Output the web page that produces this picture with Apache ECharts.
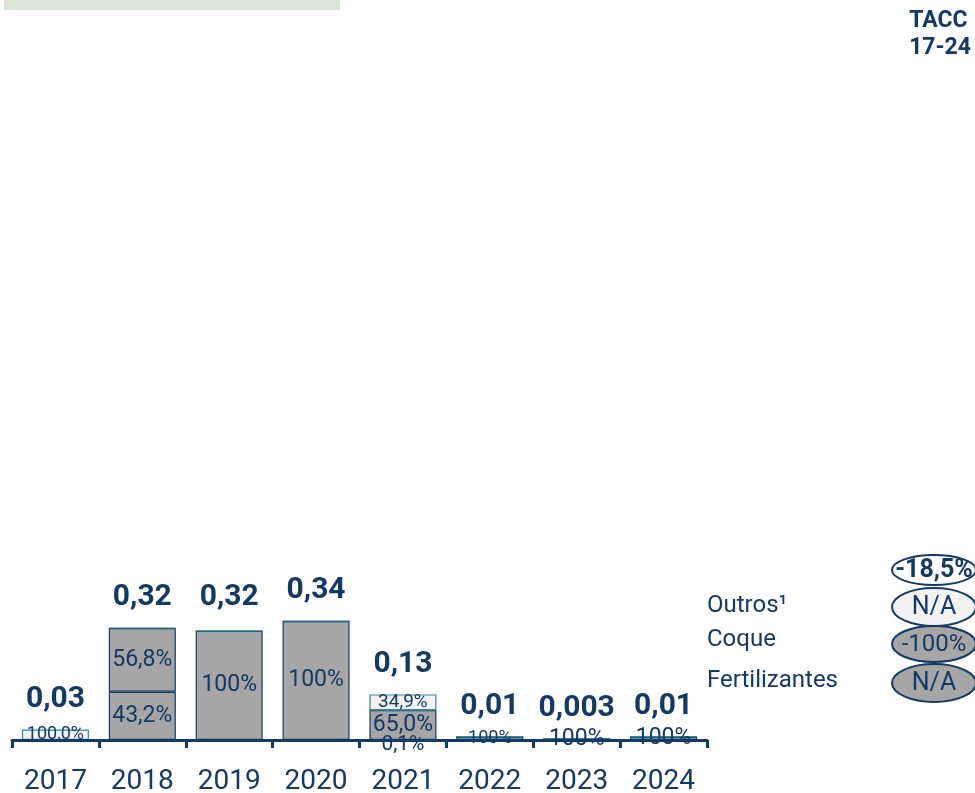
<!DOCTYPE html>
<html>
<head>
<meta charset="utf-8">
<script src="https://cdn.jsdelivr.net/npm/echarts@6/dist/echarts.min.js"></script>
<style>
html,body{margin:0;padding:0;background:#fff;}
#chart{width:975px;height:793px;}
</style>
</head>
<body>
<div id="chart"></div>
<script>
// ---- data ----
const years = ['2017', '2018', '2019', '2020', '2021', '2022', '2023', '2024'];
const fertilizantes = [0, 0.138, 0, 0, 0.0003, 0.01, 0.003, 0.01];
const coque = [0, 0.182, 0.312, 0.34, 0.085, 0, 0, 0];
const outros = [0.03, 0, 0, 0, 0.045, 0, 0, 0];
const fertLabels = ['', '43,2%', '', '', '0,1%', '100%', '100%', '100%'];
const coqueLabels = ['', '56,8%', '100%', '100%', '65,0%', '', '', ''];
const outrosLabels = ['100,0%', '', '', '', '34,9%', '', '', ''];
const totals = [0.03, 0.32, 0.32, 0.34, 0.13, 0.01, 0.003, 0.01];
const totalLabels = ['0,03', '0,32', '0,32', '0,34', '0,13', '0,01', '0,003', '0,01'];
const legendNames = ['Outros\u00B9', 'Coque', 'Fertilizantes'];
const taccTitle = ['TACC', '17-24'];
const taccTotal = '-18,5%';
const taccValues = ['N/A', '-100%', 'N/A'];

// ---- styling ----
const NAVY = '#123a64';
const GREY = '#a6a6a6';
const LIGHT = '#f2f2f2';
const TEAL = '#2f8c9c';
const FONT = "Roboto, 'Liberation Sans', sans-serif";
// label font sizes per category (style only)
const fertLabelSize = [23, 23, 23, 23, 21, 18, 23, 23];
const coqueLabelSize = [23, 23, 23, 23, 23, 23, 23, 23];
const outrosLabelSize = [18, 23, 23, 23, 19, 23, 23, 23];

function segData(values, labels, sizes, name) {
  return values.map((v, i) => {
    const lab = labels[i];
    const item = { value: v };
    item.label = { show: lab !== '', formatter: lab, fontSize: sizes[i] };
    if (name === 'fert' && lab === '0,1%') item.label.offset = [0, 5];
    return item;
  });
}

const barCommon = {
  type: 'bar',
  stack: 'total',
  barWidth: 67,
  label: { show: true, position: 'inside', color: NAVY, fontFamily: FONT },
  emphasis: { disabled: true }
};

const chart = echarts.init(document.getElementById('chart'), null, { renderer: 'canvas' });

const graphics = [
  { type: 'rect', shape: { x: 4, y: 0, width: 336, height: 10 }, style: { fill: '#d8e5d8' } },
  { type: 'text', right: 4, top: 8, style: { text: taccTitle.join('\n'), fill: NAVY, font: "bold 23px " + FONT, lineHeight: 27, align: 'right' } }
];

const legendY = [606, 640, 681];
legendNames.forEach((n, i) => {
  graphics.push({ type: 'text', x: 707, y: legendY[i], style: { text: n, fill: NAVY, font: "24px " + FONT, verticalAlign: 'middle' } });
});
const ell = [
  { cy: 570, ry: 15, fill: '#ffffff', text: taccTotal, bold: true, size: 25 },
  { cy: 607, ry: 19, fill: LIGHT, text: taccValues[0], size: 25 },
  { cy: 644, ry: 18, fill: GREY, text: taccValues[1], size: 24 },
  { cy: 683, ry: 19, fill: GREY, text: taccValues[2], size: 25 }
];
ell.forEach(e => {
  graphics.push({ type: 'ellipse', shape: { cx: 934, cy: e.cy, rx: 42, ry: e.ry }, style: { fill: e.fill, stroke: NAVY, lineWidth: 2 } });
  graphics.push({ type: 'text', x: 934, y: e.cy + 1, style: { text: e.text, fill: NAVY, font: (e.bold ? 'bold ' : '') + e.size + 'px ' + FONT, align: 'center', verticalAlign: 'middle' } });
});

chart.setOption({
  animation: false,
  backgroundColor: '#ffffff',
  grid: { left: 12, right: 268, top: 390, bottom: 53, containLabel: false, outerBoundsMode: 'none' },
  xAxis: {
    type: 'category',
    data: years,
    z: 10,
    axisLine: { lineStyle: { color: NAVY, width: 3 } },
    axisTick: { show: true, length: 8, lineStyle: { color: NAVY, width: 3 } },
    axisLabel: { color: NAVY, fontSize: 28, fontFamily: FONT, margin: 28 }
  },
  yAxis: { type: 'value', min: 0, max: 1, show: false },
  series: [
    Object.assign({}, barCommon, {
      name: 'Fertilizantes',
      data: segData(fertilizantes, fertLabels, fertLabelSize, 'fert'),
      itemStyle: { color: GREY, borderColor: NAVY, borderWidth: 1.2 }
    }),
    Object.assign({}, barCommon, {
      name: 'Coque',
      data: segData(coque, coqueLabels, coqueLabelSize, 'coque'),
      itemStyle: { color: GREY, borderColor: NAVY, borderWidth: 1.2 }
    }),
    Object.assign({}, barCommon, {
      name: 'Outros',
      data: segData(outros, outrosLabels, outrosLabelSize, 'outros'),
      itemStyle: { color: LIGHT, borderColor: TEAL, borderWidth: 1.2 }
    }),
    {
      type: 'line',
      name: 'Total',
      data: totals,
      symbol: 'circle',
      symbolSize: 1,
      showSymbol: true,
      lineStyle: { opacity: 0 },
      itemStyle: { color: 'transparent', opacity: 1 },
      label: {
        show: true,
        position: 'top',
        distance: 15,
        formatter: p => totalLabels[p.dataIndex],
        color: NAVY,
        fontFamily: FONT,
        fontWeight: 'bold',
        fontSize: 30
      },
      emphasis: { disabled: true },
      z: 5
    }
  ],
  graphic: graphics
});
</script>
</body>
</html>
